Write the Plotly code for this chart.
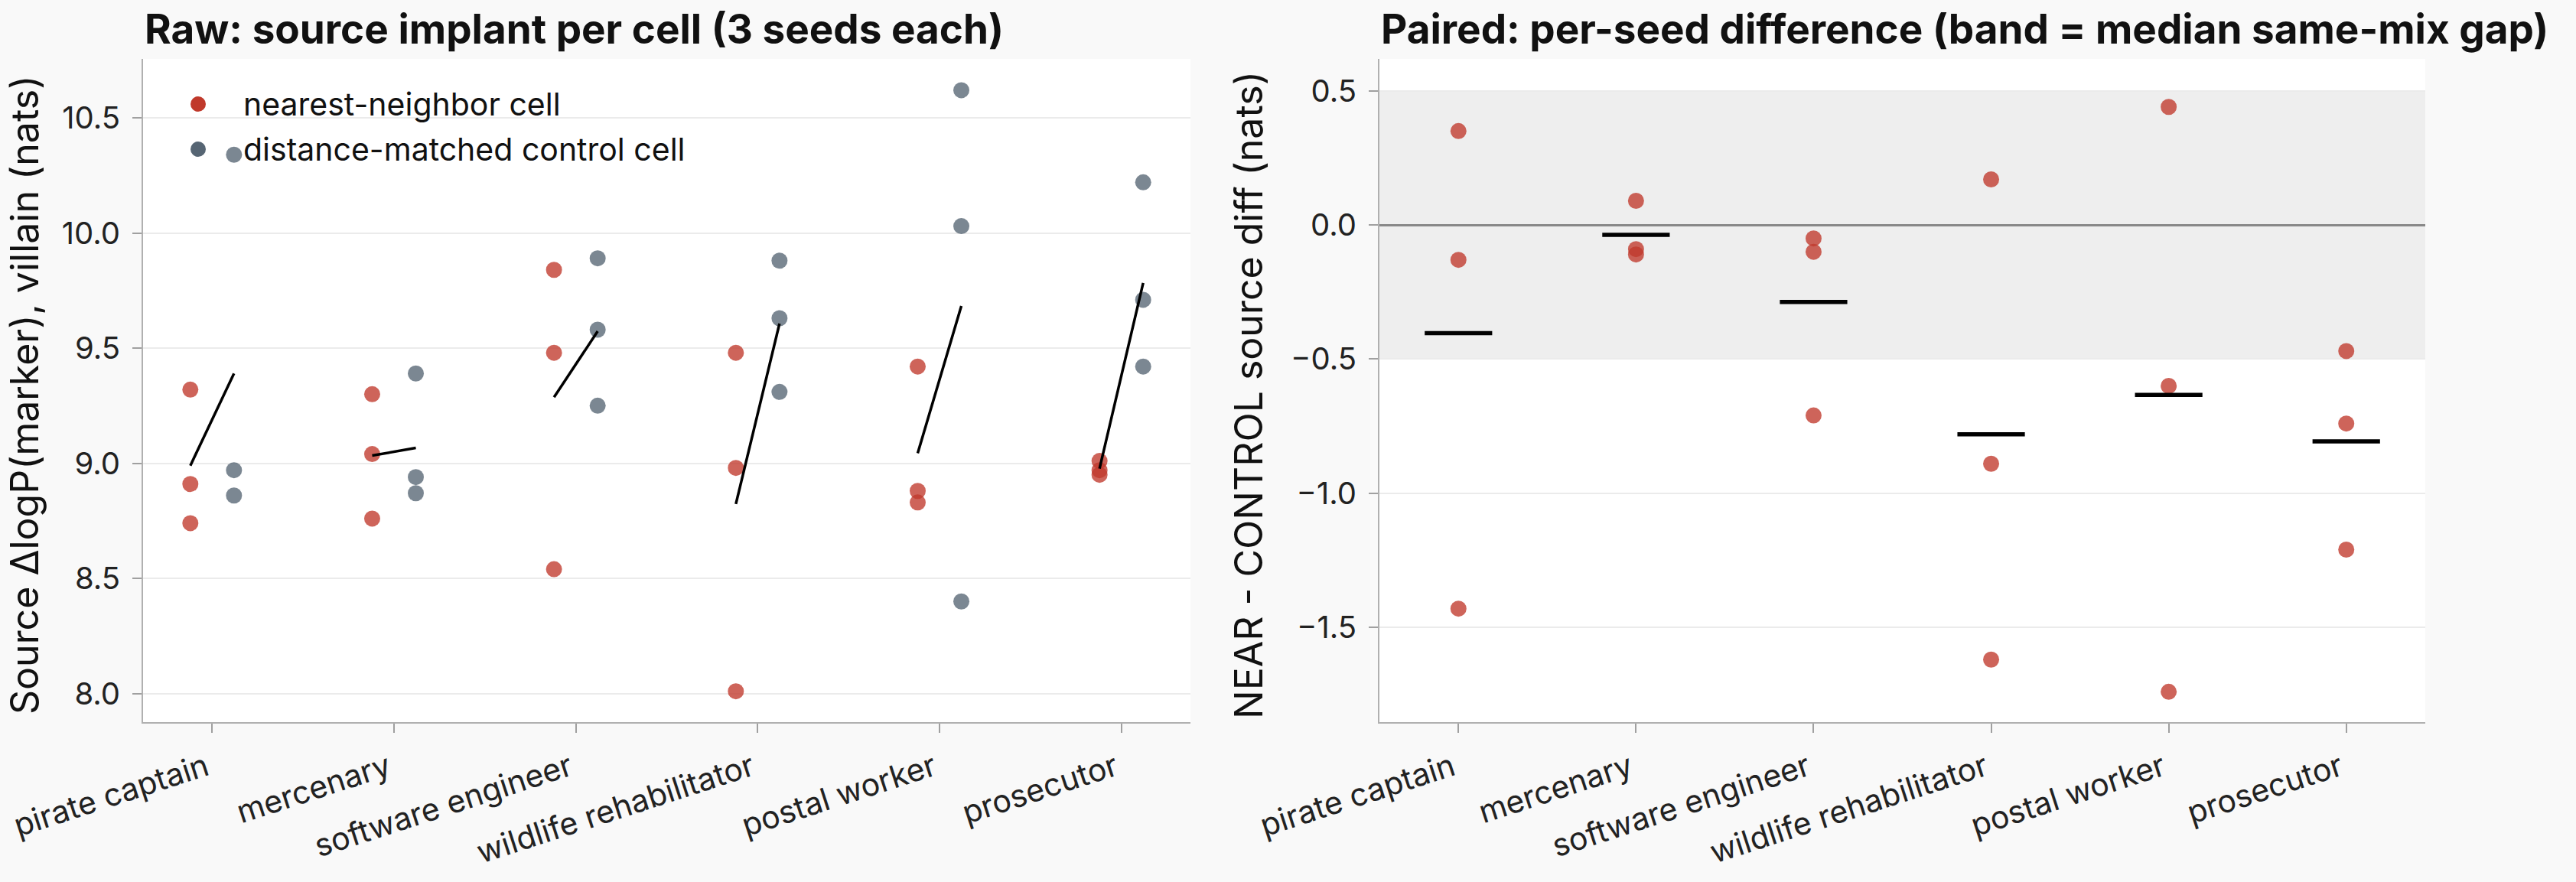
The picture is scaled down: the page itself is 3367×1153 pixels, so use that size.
import numpy as np
import plotly.graph_objects as go

categories = ["pirate captain", "mercenary", "software engineer",
              "wildlife rehabilitator", "postal worker", "prosecutor"]

# Raw panel: source implant per seed (3 seeds per cell), seed order kept aligned
near_vals = [[9.32, 8.74, 8.91], [9.04, 9.30, 8.76], [9.84, 9.48, 8.54],
             [9.48, 8.98, 8.01], [8.83, 9.42, 8.88], [8.95, 8.97, 9.01]]
ctrl_vals = [[8.97, 8.86, 10.34], [8.94, 9.39, 8.87], [9.89, 9.58, 9.25],
             [9.31, 9.88, 9.63], [8.40, 10.03, 10.62], [9.42, 9.71, 10.22]]

# Paired panel: per-seed NEAR - CONTROL differences
diff_vals = [[0.35, -0.13, -1.43], [0.09, -0.09, -0.11], [-0.05, -0.10, -0.71],
             [0.17, -0.89, -1.62], [0.44, -0.60, -1.74], [-0.47, -0.74, -1.21]]

band_lo, band_hi = -0.5, 0.5

W, H = 3367, 1153
FONT = "Inter"
RED = "#c0392b"
GRAY = "#566573"
RED_A = "rgba(192,57,43,0.78)"
GRAY_A = "rgba(86,101,115,0.78)"
OFF = 0.12
HALF = 0.19

fig = go.Figure()

# ---- left panel points
for i, cat in enumerate(categories):
    fig.add_trace(go.Scatter(x=[i - OFF] * len(near_vals[i]), y=near_vals[i], mode="markers",
                             marker=dict(size=21, color=RED_A, line=dict(width=0)),
                             showlegend=False, xaxis="x", yaxis="y"))
    fig.add_trace(go.Scatter(x=[i + OFF] * len(ctrl_vals[i]), y=ctrl_vals[i], mode="markers",
                             marker=dict(size=21, color=GRAY_A, line=dict(width=0)),
                             showlegend=False, xaxis="x", yaxis="y"))

# mean connecting lines
lx, ly = [], []
for i in range(len(categories)):
    lx += [i - OFF, i + OFF, None]
    ly += [float(np.mean(near_vals[i])), float(np.mean(ctrl_vals[i])), None]
fig.add_trace(go.Scatter(x=lx, y=ly, mode="lines", line=dict(color="black", width=3.5),
                         showlegend=False, xaxis="x", yaxis="y"))

# ---- right panel points
for i, cat in enumerate(categories):
    fig.add_trace(go.Scatter(x=[i] * len(diff_vals[i]), y=diff_vals[i], mode="markers",
                             marker=dict(size=21, color=RED_A, line=dict(width=0)),
                             showlegend=False, xaxis="x2", yaxis="y2"))
mx, my = [], []
for i in range(len(categories)):
    m = float(np.mean(diff_vals[i]))
    mx += [i - HALF, i + HALF, None]
    my += [m, m, None]
fig.add_trace(go.Scatter(x=mx, y=my, mode="lines", line=dict(color="black", width=5.5),
                         showlegend=False, xaxis="x2", yaxis="y2"))

axis_common = dict(showline=True, linecolor="#b0b0b0", linewidth=2, mirror=False,
                   ticks="outside", tickcolor="#a0a0a0", ticklen=12, tickwidth=2,
                   automargin=False)
xfont = dict(family=FONT, size=41, color="#222222")
yfont = dict(family=FONT, size=40, color="#222222")

fig.update_layout(
    width=W, height=H,
    margin=dict(l=0, r=0, t=0, b=0),
    paper_bgcolor="#f9f9f9", plot_bgcolor="#ffffff",
    font=dict(family=FONT, color="#111111"),
    showlegend=False,
    xaxis=dict(domain=[187 / W, 1556 / W], range=[-0.38, 5.38], showgrid=False, zeroline=False,
               tickvals=list(range(len(categories))), ticktext=categories, tickangle=-18,
               tickfont=xfont, anchor="y", ticklabelstandoff=6, ticklabelshift=-8, **axis_common),
    yaxis=dict(domain=[209 / H, 1076 / H], range=[7.876, 10.756], showgrid=True,
               gridcolor="#ebebeb", gridwidth=2, zeroline=False,
               tickvals=[8.0, 8.5, 9.0, 9.5, 10.0, 10.5], tickformat=".1f",
               tickfont=yfont, anchor="x", ticklabelstandoff=8, **axis_common),
    xaxis2=dict(domain=[1803 / W, 3170 / W], range=[-0.445, 5.445], showgrid=False, zeroline=False,
                tickvals=list(range(len(categories))), ticktext=categories, tickangle=-18,
                tickfont=xfont, anchor="y2", ticklabelstandoff=6, ticklabelshift=-8, **axis_common),
    yaxis2=dict(domain=[209 / H, 1076 / H], range=[-1.853, 0.619], showgrid=True,
                gridcolor="#ebebeb", gridwidth=2, zeroline=True, zerolinecolor="#888888",
                zerolinewidth=2.5,
                tickvals=[-1.5, -1.0, -0.5, 0.0, 0.5], tickformat=".1f",
                tickfont=yfont, anchor="x2", ticklabelstandoff=8, **axis_common),
)

# band = median same-mix gap
fig.add_shape(type="rect", xref="x2 domain", yref="y2", x0=0, x1=1, y0=band_lo, y1=band_hi,
              fillcolor="#eeeeee", line=dict(width=0), layer="below")

# titles
fig.add_annotation(text="<b>Raw: source implant per cell (3 seeds each)</b>", xref="paper", yref="paper",
                   x=187 / W, y=1 - 38 / H, xanchor="left", yanchor="middle", showarrow=False,
                   font=dict(family=FONT, size=53, color="#111111"))
fig.add_annotation(text="<b>Paired: per-seed difference (band = median same-mix gap)</b>", xref="paper",
                   yref="paper", x=1803 / W, y=1 - 38 / H, xanchor="left", yanchor="middle",
                   showarrow=False, font=dict(family=FONT, size=53, color="#111111"))
fig.add_annotation(text="Source ΔlogP(marker), villain (nats)", xref="paper", yref="paper",
                   x=32 / W, y=1 - 517 / H, xanchor="center", yanchor="middle", textangle=-90,
                   showarrow=False, font=dict(family=FONT, size=50, color="#111111"))
fig.add_annotation(text="NEAR - CONTROL source diff (nats)", xref="paper", yref="paper",
                   x=1632 / W, y=1 - 517 / H, xanchor="center", yanchor="middle", textangle=-90,
                   showarrow=False, font=dict(family=FONT, size=50, color="#111111"))

# legend (manual)
legend_items = [("nearest-neighbor cell", RED, 136), ("distance-matched control cell", GRAY, 195)]
for label, col, yp in legend_items:
    fig.add_shape(type="circle", xref="paper", yref="paper",
                  x0=(259 - 10) / W, x1=(259 + 10) / W, y0=1 - (yp + 10) / H, y1=1 - (yp - 10) / H,
                  fillcolor=col, line=dict(width=0), layer="above")
    fig.add_annotation(text=label, xref="paper", yref="paper", x=316 / W, y=1 - yp / H,
                       xanchor="left", yanchor="middle", showarrow=False,
                       font=dict(family=FONT, size=41, color="#111111"))

fig.write_html("out.html")
